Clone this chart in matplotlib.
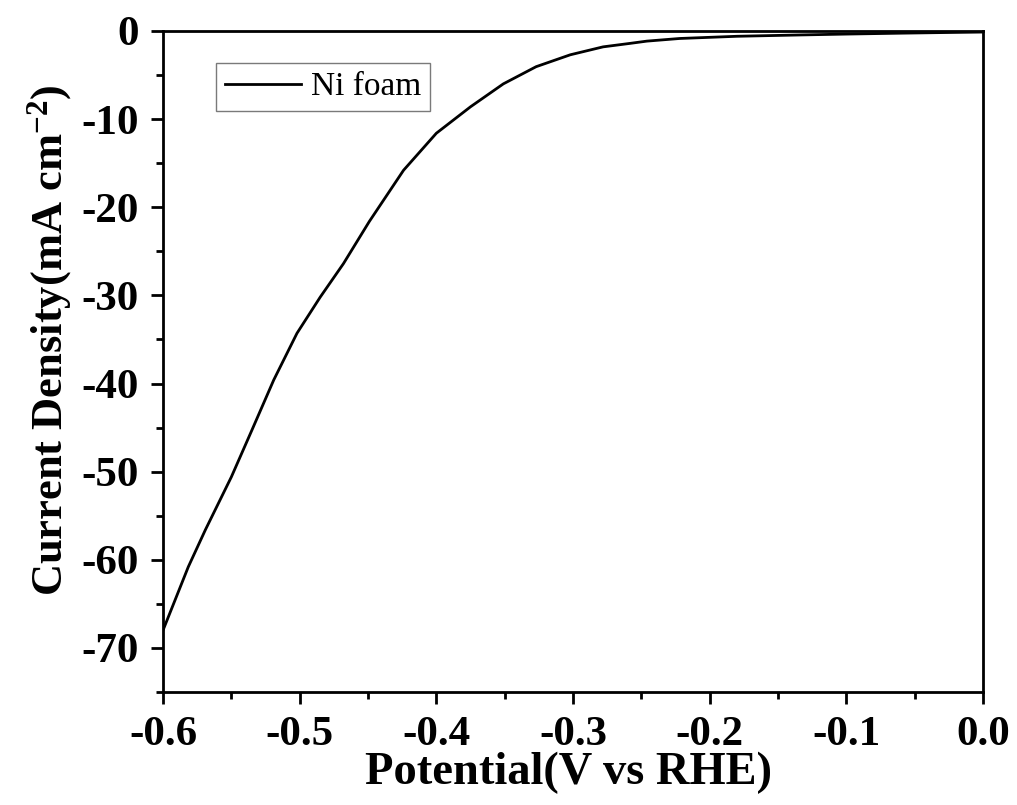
import matplotlib
matplotlib.use("Agg")
import matplotlib.pyplot as plt
from matplotlib.ticker import MultipleLocator, FuncFormatter

plt.rcParams["font.family"] = ["Liberation Serif", "DejaVu Serif"]
plt.rcParams["mathtext.fontset"] = "custom"
plt.rcParams["mathtext.rm"] = "Liberation Serif"
plt.rcParams["mathtext.bf"] = "Liberation Serif:bold"
plt.rcParams["axes.unicode_minus"] = False

# LSV curve of bare Ni foam
potential = [-0.600, -0.5815, -0.569, -0.550, -0.535, -0.519, -0.502, -0.485,
             -0.468, -0.449, -0.424, -0.400, -0.375, -0.351, -0.327, -0.302,
             -0.278, -0.258, -0.246, -0.222, -0.180, -0.134, -0.100, -0.061,
             -0.030, 0.000]
current = [-68.0, -60.8, -56.6, -50.6, -45.3, -39.6, -34.3, -30.2,
           -26.4, -21.6, -15.8, -11.6, -8.6, -6.0, -4.05, -2.7,
           -1.8, -1.4, -1.15, -0.85, -0.6, -0.45, -0.35, -0.25,
           -0.18, -0.12]
series_label = "Ni foam"

fig = plt.figure(figsize=(10.17, 8.05), dpi=100)
ax = fig.add_axes([0.1603, 0.1404, 0.8063, 0.8211])

ax.plot(potential, current, color="black", lw=2.0, label=series_label)

ax.set_xlim(-0.6, 0.0)
ax.set_ylim(-75, 0)
ax.xaxis.set_major_locator(MultipleLocator(0.1))
ax.xaxis.set_minor_locator(MultipleLocator(0.05))
ax.yaxis.set_major_locator(MultipleLocator(10))
ax.yaxis.set_minor_locator(MultipleLocator(5))
ax.xaxis.set_major_formatter(FuncFormatter(lambda v, p: f"{v:.1f}".replace("-0.0", "0.0")))
ax.yaxis.set_major_formatter(FuncFormatter(lambda v, p: f"{v:.0f}"))

for s in ax.spines.values():
    s.set_linewidth(2.0)
ax.tick_params(which="both", direction="out", top=False, right=False)
ax.tick_params(which="major", length=8.5, width=2.0, labelsize=31, pad=9)
ax.tick_params(which="minor", length=5, width=2.0)
for lab in ax.get_xticklabels() + ax.get_yticklabels():
    lab.set_fontweight("bold")

ax.set_xlabel("Potential(V vs RHE)", fontsize=33.5, fontweight="bold")
ax.xaxis.set_label_coords(0.495, -0.091)
fig.text(50 / 1017, 1 - 340 / 805, r"Current Density(mA cm$\mathbf{^{-2}}$)",
         rotation=90, ha="center", va="center", fontsize=32, fontweight="bold")

leg = ax.legend(loc="upper left", bbox_to_anchor=(0.065, 0.951), fontsize=24,
                frameon=True, fancybox=False, handlelength=2.3,
                handletextpad=0.3, borderpad=0.25, borderaxespad=0)
leg.get_frame().set_edgecolor("0.35")
leg.get_frame().set_linewidth(1.0)

fig.savefig("out.png", dpi=100)
